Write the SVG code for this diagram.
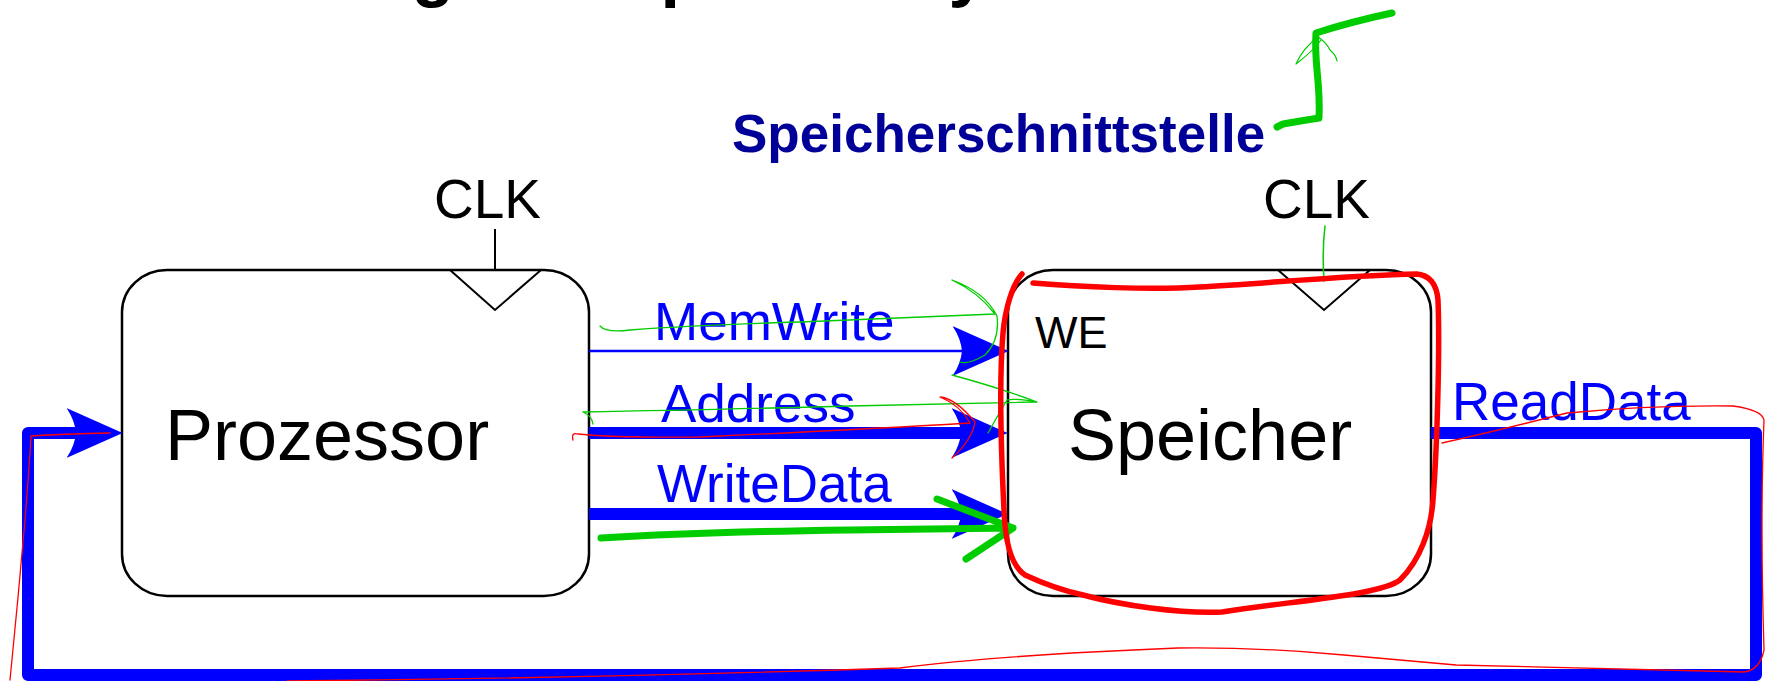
<svg xmlns="http://www.w3.org/2000/svg" width="1771" height="681" viewBox="0 0 1771 681">
<style>
  .box { fill: #ffffff; stroke: #000000; stroke-width: 2.5; }
  .clk { fill: none; stroke: #000000; stroke-width: 2; stroke-linejoin: miter; }
  .txt { font-family: "Liberation Sans", Arial, sans-serif; fill: #000000; }
  .sig { font-family: "Liberation Sans", Arial, sans-serif; fill: #0000ff; font-size: 53px; }
  .bus { fill: none; stroke: #0000ff; stroke-width: 12; stroke-linejoin: round; }
  .wire { fill: none; stroke: #0000ff; stroke-width: 2.5; }
  .inkG { fill: none; stroke: #00cc00; stroke-linecap: round; stroke-linejoin: round; }
  .inkR { fill: none; stroke: #ff0000; stroke-linecap: round; stroke-linejoin: round; }
</style>
<defs>
  <marker id="arrow" markerUnits="userSpaceOnUse" markerWidth="56" markerHeight="50" viewBox="0 0 54 48" refX="10" refY="24" orient="auto">
    <path d="M0,0 L54,24 L0,48 Q8,36 9,24 Q8,12 0,0 Z" fill="#0000ff"/>
  </marker>
</defs>
<rect width="1771" height="681" fill="#ffffff"/>

<g id="title">
  <text class="txt" x="85" y="-7" font-size="70" font-weight="bold">Anbindung des Speichersystems</text>
</g>

<g id="interface-label">
  <text x="732" y="152" font-family="Liberation Sans, Arial, sans-serif" font-size="53" font-weight="bold" fill="#000099">Speicherschnittstelle</text>
</g>

<g id="prozessor">
  <rect class="box" x="122" y="270" width="467" height="326" rx="45" ry="42"/>
  <polyline class="clk" points="450,270 495,310 541,270"/>
  <line x1="495" y1="229" x2="495" y2="270" stroke="#000000" stroke-width="2"/>
  <text class="txt" x="434" y="218" font-size="55">CLK</text>
  <text class="txt" x="165" y="460" font-size="72">Prozessor</text>
</g>

<g id="speicher">
  <rect class="box" x="1008" y="270" width="423" height="326" rx="45" ry="42"/>
  <polyline class="clk" points="1278,270 1324,310 1370,270"/>
  <text class="txt" x="1263" y="218" font-size="55">CLK</text>
  <text class="txt" x="1035" y="348" font-size="45">WE</text>
  <text class="txt" x="1068" y="460" font-size="72">Speicher</text>
</g>

<g id="connectors">
  <path class="wire" d="M589,351 H963" marker-end="url(#arrow)"/>
  <path class="bus" d="M589,433 H962" marker-end="url(#arrow)"/>
  <path class="bus" d="M589,514 H962" marker-end="url(#arrow)"/>
  <path class="bus" d="M1431,433 H1756 V675 H28 V433 H77" marker-end="url(#arrow)"/>
</g>

<g id="connector-labels">
  <text class="sig" x="654" y="340" font-size="54">MemWrite</text>
  <text class="sig" x="661" y="422">Address</text>
  <text class="sig" x="657" y="502">WriteData</text>
  <text class="sig" x="1452" y="420">ReadData</text>
</g>

<g id="annotations">
  <path class="inkG" stroke-width="7" d="M1277,127 L1283,124 Q1300,121 1319,118 Q1320,100 1317,70 Q1315,48 1316,33 Q1350,22 1392,13"/>
  <path class="inkG" stroke-width="1.2" d="M1296,64 Q1303,48 1318,37 Q1326,42 1330,50 Q1336,55 1337,61 M1296,64 Q1312,52 1321,40"/>
  <path class="inkG" stroke-width="1.5" d="M1325,226 Q1322,250 1324,281"/>
  <path class="inkG" stroke-width="7" d="M601,538 Q700,532 850,530 L1013,528 M937,499 L1013,528 L966,559"/>
  <path class="inkG" stroke-width="1.3" d="M600,326 Q606,333 630,330 Q700,325 800,322 Q900,318 995,314 Q978,292 952,280 Q985,292 997,316 Q1000,340 985,355 Q968,365 960,362"/>
  <path class="inkG" stroke-width="1.3" d="M583,412 Q592,416 593,424 M583,412 Q700,410 850,406 Q950,404 1037,402 Q1000,388 952,375 M1037,402 Q1015,398 1007,400 Q998,415 988,433"/>
  <path class="inkR" stroke-width="5.5" d="M1033,283 C1080,287 1150,290 1200,287 C1260,284 1350,275 1417,274 Q1436,276 1438,300 C1440,350 1437,450 1433,500 C1431,530 1420,560 1400,580 C1380,595 1300,600 1222,612 C1180,614 1120,605 1083,595 C1060,590 1040,582 1025,575 C1010,565 1005,540 1004,510 C1001,450 999,380 1003,333 C1005,310 1012,285 1022,274"/>
  <path class="inkR" stroke-width="1.3" d="M573,440 Q571,432 578,434 Q620,438 700,437 Q850,430 970,423 Q960,405 940,397 Q955,398 975,422 Q972,440 952,458"/>
  <path class="inkR" stroke-width="1.3" d="M1442,443 Q1500,430 1567,413 Q1650,405 1733,406 Q1762,410 1764,420 Q1760,520 1764,650 Q1760,670 1744,672 Q1600,668 1456,665 Q1380,658 1344,655 Q1260,647 1178,648 Q1000,655 900,668 Q600,678 287,681"/>
  <path class="inkR" stroke-width="1.3" d="M10,680 Q18,600 25,520 Q29,470 31,436 Q60,434 110,433"/>
</g>
</svg>
